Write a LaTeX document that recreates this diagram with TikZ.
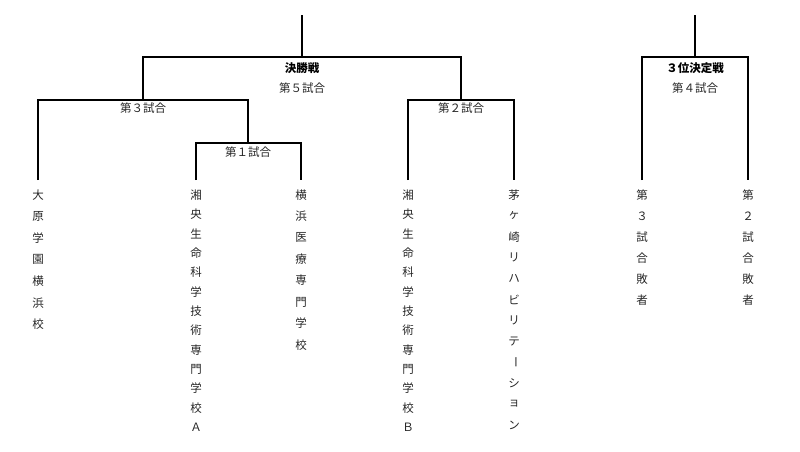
\documentclass[tikz,border=0pt]{standalone}
\usepackage{fontspec}
\setmainfont{Noto Sans CJK JP}
\newcommand{\vtext}[4]{% x, y0, step, list
  \foreach \c [count=\i from 0] in {#4} {\node[ch] (v-#1-\i) at (#1,{#2+#3*\i}) {\c};}}
\begin{document}
\begin{tikzpicture}[x=1pt,y=-1pt,
  br/.style={line width=1.3pt,black},
  lab/.style={font=\fontsize{11.5}{12}\selectfont,inner sep=0pt,text=black!85},
  blab/.style={lab,font=\fontsize{11.5}{12}\selectfont\bfseries,text=black},
  ch/.style={font=\fontsize{11.5}{12}\selectfont,inner sep=0pt,text=black!85}]
\useasboundingbox (0,0) rectangle (800,451);
% final
\coordinate (ft) at (302,15); \coordinate (fm) at (302,57);
\draw[br] (ft)--(fm);
\draw[br] (143,100)--(143,57)--(461,57)--(461,100);
\node[blab] (f1) at (302,68) {決勝戦};
\node[lab] (f2) at (302,88) {第５試合};
% match 3
\draw[br] (38,180)--(38,100)--(248,100)--(248,143);
\node[lab] (m3) at (143,108) {第３試合};
% match 1
\draw[br] (196,180)--(196,143)--(301,143)--(301,180);
\node[lab] (m1) at (248,152) {第１試合};
% match 2
\draw[br] (408,180)--(408,100)--(514,100)--(514,180);
\node[lab] (m2) at (461,108) {第２試合};
% third place
\draw[br] (695,15)--(695,57);
\draw[br] (642,180)--(642,57)--(748,57)--(748,180);
\node[blab] (t1) at (695,68) {３位決定戦};
\node[lab] (t2) at (695,88) {第４試合};
% names
\vtext{38}{195}{21.6}{大,原,学,園,横,浜,校}
\vtext{196}{195}{19.35}{湘,央,生,命,科,学,技,術,専,門,学,校,Ａ}
\vtext{301}{195}{21.4}{横,浜,医,療,専,門,学,校}
\vtext{408}{195}{19.35}{湘,央,生,命,科,学,技,術,専,門,学,校,Ｂ}
\vtext{514}{195}{20.9}{茅,ヶ,崎,リ,ハ,ビ,リ,テ,\rotatebox{-90}{ー},シ,ョ,ン}
\vtext{642}{195}{21}{第,３,試,合,敗,者}
\vtext{748}{195}{21}{第,２,試,合,敗,者}
\end{tikzpicture}
\end{document}
